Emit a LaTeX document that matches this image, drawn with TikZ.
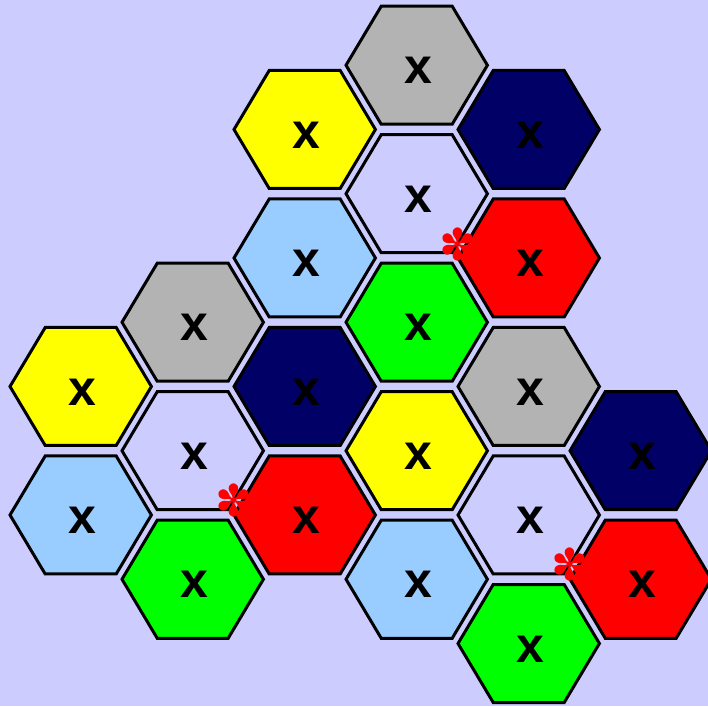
\documentclass[tikz,border=0pt]{standalone}
\usepackage{fontspec}
\setmainfont{Liberation Sans}
\newfontfamily\starfont{DejaVu Sans}
\definecolor{bgLav}{HTML}{CCCCFF}
\definecolor{hxYellow}{HTML}{FFFF00}
\definecolor{hxGray}{HTML}{B3B3B3}
\definecolor{hxNavy}{HTML}{000066}
\definecolor{hxRed}{HTML}{FF0000}
\definecolor{hxBlue}{HTML}{99CCFF}
\definecolor{hxGreen}{HTML}{00FF00}
\definecolor{hxLav}{HTML}{CCCCFF}
\tikzset{
  hexcell/.style={draw=black, line width=3pt, line join=miter},
  hexmark/.style={inner sep=0pt, font=\fontsize{50}{50}\selectfont\bfseries},
  hexstar/.style={inner sep=0pt, anchor=center, text=hxRed, font=\fontsize{44}{44}\selectfont\starfont}
}
\newcommand{\hexcell}[3]{%
  \filldraw[hexcell, fill=#3, shift={(#1,#2)}]
    (70.7,0) -- (35.5,59) -- (-35.5,59) -- (-70.7,0) -- (-35.5,-59) -- (35.5,-59) -- cycle;}
\begin{document}
\begin{tikzpicture}[x=1pt,y=1pt]
\useasboundingbox (0,0) rectangle (708,706);
\fill[bgLav] (0,0) rectangle (708,706);
% column 0
\hexcell{80.7}{319.5}{hxYellow}
\node[hexmark] (c0a) at (82.7,314) {x};
\hexcell{80.7}{191}{hxBlue}
\node[hexmark] (c0b) at (82.7,185.5) {x};
% column 1
\hexcell{192.7}{383.75}{hxGray}
\node[hexmark] (c1a) at (194.7,378.25) {x};
\hexcell{192.7}{255.25}{hxLav}
\node[hexmark] (c1b) at (194.7,249.75) {x};
\hexcell{192.7}{126.75}{hxGreen}
\node[hexmark] (c1c) at (194.7,121.25) {x};
% column 2
\hexcell{304.7}{576.5}{hxYellow}
\node[hexmark] (c2a) at (306.7,571) {x};
\hexcell{304.7}{448}{hxBlue}
\node[hexmark] (c2b) at (306.7,442.5) {x};
\hexcell{304.7}{319.5}{hxNavy}
\node[hexmark] (c2c) at (306.7,314) {x};
\hexcell{304.7}{191}{hxRed}
\node[hexmark] (c2d) at (306.7,185.5) {x};
% column 3
\hexcell{416.7}{640.75}{hxGray}
\node[hexmark] (c3a) at (418.7,635.25) {x};
\hexcell{416.7}{512.25}{hxLav}
\node[hexmark] (c3b) at (418.7,506.75) {x};
\hexcell{416.7}{383.75}{hxGreen}
\node[hexmark] (c3c) at (418.7,378.25) {x};
\hexcell{416.7}{255.25}{hxYellow}
\node[hexmark] (c3d) at (418.7,249.75) {x};
\hexcell{416.7}{126.75}{hxBlue}
\node[hexmark] (c3e) at (418.7,121.25) {x};
% column 4
\hexcell{528.7}{576.5}{hxNavy}
\node[hexmark] (c4a) at (530.7,571) {x};
\hexcell{528.7}{448}{hxRed}
\node[hexmark] (c4b) at (530.7,442.5) {x};
\hexcell{528.7}{319.5}{hxGray}
\node[hexmark] (c4c) at (530.7,314) {x};
\hexcell{528.7}{191}{hxLav}
\node[hexmark] (c4d) at (530.7,185.5) {x};
\hexcell{528.7}{62.5}{hxGreen}
\node[hexmark] (c4e) at (530.7,57) {x};
% column 5
\hexcell{640.7}{255.25}{hxNavy}
\node[hexmark] (c5a) at (642.7,249.75) {x};
\hexcell{640.7}{126.75}{hxRed}
\node[hexmark] (c5b) at (642.7,121.25) {x};
% stars at the red cells
\node[hexstar] (s1) at (458,462) {✽};
\node[hexstar] (s2) at (234,205.5) {✽};
\node[hexstar] (s3) at (570,141.75) {✽};
\end{tikzpicture}
\end{document}
